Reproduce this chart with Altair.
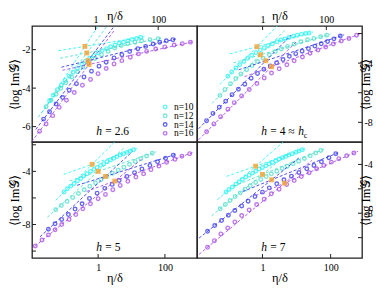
import altair as alt
import pandas as pd

FONT = "Liberation Serif"
SERIES = ["n=10", "n=12", "n=14", "n=16"]
COLORS = ["#1ff4f4", "#44dcc8", "#2828ee", "#a23fe4"]
SQUARE_COLOR = "#f4a43a"
X_TITLE = "η/δ"
Y_TITLE = "⟨log Im𝒢⟩"
X_LABEL_VALUES = [1, 100]

# ---------- h = 2.6 (x values are log10 of eta/delta) ----------
h26_x = [
    [-1.47, -1.35, -1.22, -1.09, -0.97, -0.84, -0.72, -0.58, -0.44, -0.32, -0.19, -0.05, 0.08, 0.21, 0.35, 0.48, 0.62, 0.76, 0.89, 1.03, 1.17, 1.31, 1.44],
    [-1.58, -1.42, -1.26, -1.11, -0.95, -0.76, -0.58, -0.40, -0.21, -0.02, 0.19, 0.40, 0.61, 0.82, 1.03, 1.26, 1.47, 1.74, 2.00],
    [-1.66, -1.47, -1.26, -1.05, -0.84, -0.61, -0.37, -0.13, 0.11, 0.34, 0.59, 0.84, 1.09, 1.35, 1.60, 1.84, 2.05, 2.26, 2.47],
    [-1.79, -1.58, -1.37, -1.16, -0.93, -0.68, -0.42, -0.16, 0.08, 0.34, 0.59, 0.84, 1.11, 1.37, 1.63, 1.92, 2.21, 2.51, 2.77, 3.03],
]
h26_y = [
    [-4.66, -4.37, -4.08, -3.84, -3.60, -3.38, -3.17, -2.96, -2.77, -2.60, -2.45, -2.31, -2.17, -2.05, -1.95, -1.85, -1.76, -1.67, -1.61, -1.54, -1.47, -1.42, -1.36],
    [-4.97, -4.63, -4.32, -4.01, -3.72, -3.42, -3.15, -2.91, -2.69, -2.46, -2.26, -2.09, -1.91, -1.79, -1.69, -1.61, -1.54, -1.48, -1.43],
    [-5.61, -5.23, -4.83, -4.49, -4.11, -3.77, -3.42, -3.12, -2.86, -2.65, -2.43, -2.26, -2.09, -1.95, -1.83, -1.71, -1.62, -1.54, -1.48],
    [-6.24, -5.86, -5.43, -5.00, -4.63, -4.23, -3.85, -3.55, -3.25, -2.98, -2.74, -2.57, -2.39, -2.22, -2.09, -1.97, -1.86, -1.76, -1.69, -1.62],
]
h26_sq_x = [-0.34, -0.28, -0.24, -0.21]
h26_sq_y = [-1.83, -2.17, -2.57, -2.77]

# ---------- h = 4 ----------
h4_x = [
    [-1.09, -0.97, -0.84, -0.72, -0.59, -0.47, -0.34, -0.21, -0.07, 0.05, 0.18, 0.31, 0.45, 0.57, 0.70, 0.83, 0.97, 1.09, 1.22, 1.35, 1.46],
    [-1.34, -1.18, -1.01, -0.84, -0.68, -0.50, -0.33, -0.16, 0.02, 0.21, 0.40, 0.59, 0.78, 0.99, 1.20, 1.41, 1.61, 1.82, 2.01],
    [-1.76, -1.56, -1.36, -1.16, -0.96, -0.76, -0.56, -0.36, -0.16, 0.04, 0.24, 0.44, 0.64, 0.84, 1.04, 1.24, 1.44, 1.64, 1.84, 2.04, 2.24, 2.44],
    [-1.76, -1.53, -1.32, -1.09, -0.89, -0.66, -0.42, -0.18, 0.05, 0.28, 0.52, 0.76, 0.99, 1.25, 1.49, 1.74, 1.98, 2.22, 2.47, 2.71, 2.95],
]
h4_y = [
    [-4.89, -4.60, -4.33, -4.11, -3.89, -3.67, -3.47, -3.29, -3.11, -2.96, -2.82, -2.69, -2.56, -2.44, -2.36, -2.27, -2.18, -2.11, -2.04, -2.00, -1.96],
    [-6.18, -5.78, -5.40, -5.04, -4.73, -4.44, -4.16, -3.89, -3.67, -3.44, -3.22, -3.04, -2.87, -2.71, -2.56, -2.42, -2.33, -2.22, -2.11],
    [-7.89, -7.40, -6.98, -6.57, -6.13, -5.76, -5.42, -5.02, -4.70, -4.42, -4.19, -3.98, -3.76, -3.54, -3.36, -3.19, -3.02, -2.85, -2.69, -2.54, -2.36, -2.17],
    [-8.64, -8.11, -7.62, -7.11, -6.67, -6.22, -5.78, -5.38, -5.00, -4.67, -4.38, -4.11, -3.84, -3.58, -3.33, -3.11, -2.91, -2.71, -2.51, -2.33, -2.11],
]
h4_sq_x = [-0.18, -0.07, 0.10, 0.28]
h4_sq_y = [-2.89, -3.44, -3.84, -4.24]

# ---------- h = 5 ----------
h5_x = [
    [-1.02, -0.92, -0.82, -0.72, -0.62, -0.52, -0.43, -0.33, -0.23, -0.13, -0.03, 0.07, 0.17, 0.27, 0.37, 0.47, 0.56, 0.66, 0.76, 0.86, 0.96, 1.06],
    [-1.27, -1.10, -0.93, -0.76, -0.59, -0.42, -0.25, -0.08, 0.09, 0.26, 0.43, 0.60, 0.77, 0.94, 1.11, 1.28, 1.45, 1.62],
    [-1.49, -1.29, -1.09, -0.89, -0.69, -0.48, -0.26, -0.03, 0.20, 0.42, 0.63, 0.86, 1.09, 1.31, 1.55, 1.78, 2.02, 2.25],
    [-1.88, -1.68, -1.49, -1.29, -1.09, -0.87, -0.67, -0.46, -0.23, 0.00, 0.22, 0.44, 0.66, 0.89, 1.13, 1.36, 1.58, 1.82, 2.05, 2.30, 2.51, 2.74],
]
h5_y = [
    [-5.56, -5.31, -5.11, -4.91, -4.70, -4.53, -4.35, -4.18, -4.00, -3.85, -3.70, -3.55, -3.42, -3.27, -3.14, -3.02, -2.89, -2.77, -2.67, -2.57, -2.47, -2.37],
    [-6.89, -6.57, -6.26, -5.96, -5.67, -5.39, -5.12, -4.86, -4.61, -4.37, -4.14, -3.91, -3.69, -3.47, -3.26, -3.05, -2.84, -2.63],
    [-8.35, -7.95, -7.62, -7.25, -6.84, -6.44, -6.04, -5.64, -5.28, -4.98, -4.68, -4.38, -4.10, -3.82, -3.55, -3.28, -3.02, -2.78],
    [-9.61, -9.16, -8.78, -8.40, -8.00, -7.62, -7.25, -6.82, -6.44, -6.06, -5.74, -5.38, -5.06, -4.75, -4.43, -4.18, -3.87, -3.60, -3.32, -3.09, -2.87, -2.67],
]
h5_sq_x = [-0.18, 0.00, 0.22, 0.50]
h5_sq_y = [-3.47, -4.00, -4.38, -4.73]

# ---------- h = 7 ----------
h7_x = [
    [-1.07, -0.98, -0.88, -0.78, -0.68, -0.59, -0.49, -0.39, -0.29, -0.20, -0.10, 0.00, 0.10, 0.20, 0.29, 0.39, 0.49, 0.59, 0.68, 0.78, 0.88, 0.98, 1.07, 1.17],
    [-1.24, -1.09, -0.95, -0.80, -0.65, -0.51, -0.36, -0.20, -0.05, 0.11, 0.26, 0.42, 0.58, 0.73, 0.90, 1.06, 1.23, 1.40, 1.56, 1.71],
    [-1.61, -1.40, -1.20, -1.00, -0.81, -0.61, -0.42, -0.22, 0.00, 0.20, 0.42, 0.63, 0.85, 1.07, 1.30, 1.51, 1.73, 1.95, 2.15],
    [-1.61, -1.41, -1.22, -1.02, -0.81, -0.61, -0.39, -0.17, 0.05, 0.26, 0.49, 0.71, 0.93, 1.14, 1.37, 1.59, 1.80, 2.02, 2.24, 2.47, 2.68],
]
h7_y = [
    [-6.27, -6.05, -5.84, -5.62, -5.42, -5.23, -5.04, -4.88, -4.71, -4.55, -4.38, -4.25, -4.11, -3.97, -3.84, -3.70, -3.56, -3.45, -3.34, -3.23, -3.12, -3.00, -2.90, -2.79],
    [-7.64, -7.29, -6.96, -6.63, -6.33, -6.03, -5.75, -5.48, -5.23, -4.99, -4.77, -4.55, -4.33, -4.14, -3.95, -3.73, -3.51, -3.29, -3.07, -2.85],
    [-9.48, -9.01, -8.60, -8.16, -7.78, -7.40, -7.01, -6.63, -6.27, -5.92, -5.59, -5.26, -4.96, -4.66, -4.36, -4.08, -3.78, -3.45, -3.12],
    [-10.79, -10.25, -9.70, -9.21, -8.71, -8.19, -7.73, -7.29, -6.85, -6.41, -6.03, -5.64, -5.32, -4.99, -4.68, -4.36, -4.08, -3.81, -3.53, -3.29, -3.07],
]
h7_sq_x = [-0.20, 0.00, 0.27, 0.65]
h7_sq_y = [-4.14, -4.82, -5.26, -5.53]

# axis ranges (log10 eta/delta, <log Im G>) and tick values
h26_xdom, h26_ydom = [-2.03, 3.24], [-6.8, -0.77]
h4_xdom, h4_ydom = [-2.06, 3.12], [-9.33, -1.49]
h5_xdom, h5_ydom = [-1.98, 2.96], [-10.52, -1.79]
h7_xdom, h7_ydom = [-1.92, 2.92], [-11.67, -2.16]
h26_ylabels, h26_yticks = [-6, -4, -2], [-6, -4, -2]
h4_ylabels, h4_yticks = [-8, -4], [-8, -6, -4, -2]
h5_ylabels, h5_yticks = [-8, -4], [-10, -8, -6, -4, -2]
h7_ylabels, h7_yticks = [-8, -4], [-10, -8, -6, -4]

# panel labels: (text, style, advance after it in px)
h26_label = [("h", "italic", 9), ("= 2.6", "normal", 0)]
h4_label = [("h", "italic", 9), ("= 4 ≈", "normal", 28), ("h", "italic", 5.5), ("c", "sub", 0)]
h5_label = [("h", "italic", 9), ("= 5", "normal", 0)]
h7_label = [("h", "italic", 9), ("= 7", "normal", 0)]

W, H = 165, 116
color_scale = alt.Scale(domain=SERIES, range=COLORS)


def one_row():
    return pd.DataFrame({"k": [0]})


def panel(xs, ys, sqx, sqy, xdom, ydom, ylabels, yticks, xorient, yorient, label, legend):
    xs_scale = alt.Scale(type="log", domain=[10 ** xdom[0], 10 ** xdom[1]], nice=False)
    ys_scale = alt.Scale(domain=ydom, nice=False, zero=False)
    rows, lines, sq = [], [], []
    for i, s in enumerate(SERIES):
        for a, b in zip(xs[i], ys[i]):
            rows.append({"series": s, "eta": 10 ** a, "g": b})
        x0, y0, x1, y1 = xs[i][0], ys[i][0], xs[i][-1], ys[i][-1]
        xo, yo = sqx[i], sqy[i]
        k1 = (yo - y0) / (xo - x0)
        k2 = (y1 - yo) / (x1 - xo)
        for a in (x0 - 0.25, xo + 0.8):
            lines.append({"series": s, "fit": s + "s", "eta": 10 ** a, "g": yo + k1 * (a - xo)})
        for a in (xo - 0.85, x1 + 0.12):
            lines.append({"series": s, "fit": s + "f", "eta": 10 ** a, "g": yo + k2 * (a - xo)})
        sq.append({"eta": 10 ** xo, "g": yo})
    pts, lns, sqs = pd.DataFrame(rows), pd.DataFrame(lines), pd.DataFrame(sq)

    if xorient == "top":
        xt_extra = dict(labelPadding=2, titleY=-7, titleBaseline="alphabetic")
    else:
        xt_extra = dict(labelPadding=4, titleY=23, titleBaseline="alphabetic")
    xaxis = alt.Axis(orient=xorient, values=X_LABEL_VALUES, ticks=False, domain=False, grid=False,
                     labelExpr="datum.value >= 10 ? '100' : '1'", title=X_TITLE,
                     labelFont=FONT, labelFontSize=10, labelColor="black",
                     titleFont=FONT, titleFontSize=12.5, titleFontWeight="normal", titleColor="black",
                     labelFlush=False, labelOverlap=False, **xt_extra)
    yaxis = alt.Axis(orient=yorient, values=ylabels, ticks=False, domain=False, grid=False,
                     labelExpr="'-' + abs(datum.value)", title=Y_TITLE, titleAngle=270,
                     labelFont=FONT, labelFontSize=10, labelColor="black", labelPadding=2,
                     titleFont=FONT, titleFontSize=12.5, titleFontWeight="normal", titleColor="black",
                     titlePadding=0, labelFlush=False, labelOverlap=False)

    X0 = alt.X("eta:Q", scale=xs_scale, axis=xaxis)
    Y0 = alt.Y("g:Q", scale=ys_scale, axis=yaxis)

    pt_layer = alt.Chart(pts).mark_point(shape="circle", filled=False, size=13, strokeWidth=1.35, clip=True).encode(
        x=X0, y=Y0, color=alt.Color("series:N", scale=color_scale, legend=None))
    fit_layer = alt.Chart(lns).mark_line(strokeDash=[3, 2], strokeWidth=0.9, clip=True, opacity=0.9).encode(
        x=X0, y=Y0, detail="fit:N", color=alt.Color("series:N", scale=color_scale, legend=None))
    sq_layer = alt.Chart(sqs).mark_square(size=24, color=SQUARE_COLOR, opacity=0.85).encode(x=X0, y=Y0)

    if xorient == "top":
        xt = alt.Chart(pd.DataFrame({"eta": X_LABEL_VALUES})).mark_rule(color="#222", strokeWidth=1).encode(
            x=X0, y=alt.value(0), y2=alt.value(4))
    else:
        xt = alt.Chart(pd.DataFrame({"eta": X_LABEL_VALUES})).mark_rule(color="#222", strokeWidth=1).encode(
            x=X0, y=alt.value(H), y2=alt.value(H - 4))
    if yorient == "left":
        yt = alt.Chart(pd.DataFrame({"g": yticks})).mark_rule(color="#222", strokeWidth=1).encode(
            y=Y0, x=alt.value(0), x2=alt.value(4))
    else:
        yt = alt.Chart(pd.DataFrame({"g": yticks})).mark_rule(color="#222", strokeWidth=1).encode(
            y=Y0, x=alt.value(W - 4), x2=alt.value(W))

    layers = [pt_layer, fit_layer, sq_layer, xt, yt]

    # panel label, mixed italic / upright
    px = 0.39 * W
    py = 0.94 * H
    for text, style, adv in label:
        if style == "sub":
            layers.append(alt.Chart(one_row()).mark_text(text=text, font=FONT, fontSize=8, align="left",
                                                        baseline="alphabetic", color="black").encode(
                x=alt.value(px), y=alt.value(py + 3)))
        else:
            layers.append(alt.Chart(one_row()).mark_text(text=text, font=FONT, fontSize=11.5, align="left",
                                                        baseline="alphabetic", color="black",
                                                        fontStyle=style).encode(
                x=alt.value(px), y=alt.value(py)))
        px += adv

    if legend:
        for i, s in enumerate(SERIES):
            ly = 0.698 * H + i * 8.8
            layers.append(alt.Chart(pd.DataFrame({"series": [s]})).mark_point(
                shape="circle", filled=False, size=13, strokeWidth=1.35).encode(
                x=alt.value(0.807 * W), y=alt.value(ly),
                color=alt.Color("series:N", scale=color_scale, legend=None)))
            layers.append(alt.Chart(one_row()).mark_text(text=s, font=FONT, fontSize=9.5, align="left",
                                                        baseline="middle", color="black").encode(
                x=alt.value(0.86 * W), y=alt.value(ly)))

    return alt.layer(*layers).properties(width=W, height=H)


tl = panel(h26_x, h26_y, h26_sq_x, h26_sq_y, h26_xdom, h26_ydom, h26_ylabels, h26_yticks, "top", "left", h26_label, True)
tr = panel(h4_x, h4_y, h4_sq_x, h4_sq_y, h4_xdom, h4_ydom, h4_ylabels, h4_yticks, "top", "right", h4_label, False)
bl = panel(h5_x, h5_y, h5_sq_x, h5_sq_y, h5_xdom, h5_ydom, h5_ylabels, h5_yticks, "bottom", "left", h5_label, False)
br = panel(h7_x, h7_y, h7_sq_x, h7_sq_y, h7_xdom, h7_ydom, h7_ylabels, h7_yticks, "bottom", "right", h7_label, False)

chart = alt.concat(tl, tr, bl, br, columns=2, spacing=0, bounds="flush").resolve_scale(
    x="independent", y="independent"
).configure_view(stroke="#222", strokeWidth=1.3).properties(
    padding={"left": 0, "top": 0, "right": 0, "bottom": 0}, background="white"
)

chart.save("out.html", embed_options={"renderer": "svg", "actions": False})
